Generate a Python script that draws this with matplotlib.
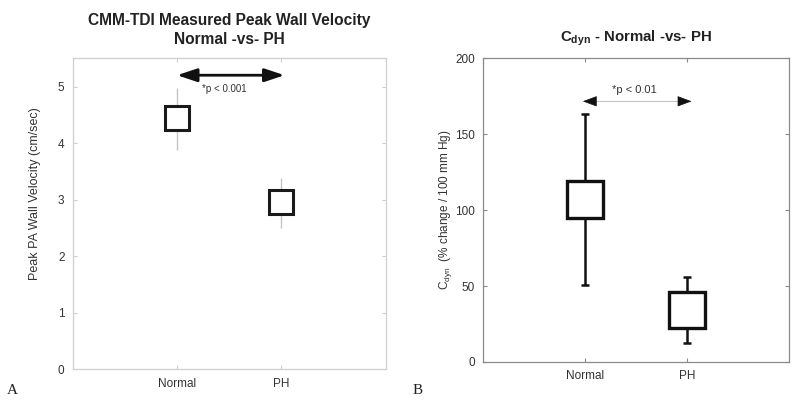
import matplotlib
matplotlib.use("Agg")
import matplotlib.pyplot as plt

plt.rcParams['font.family'] = ['Liberation Sans', 'DejaVu Sans']
plt.rcParams['mathtext.fontset'] = 'custom'
plt.rcParams['mathtext.rm'] = 'Liberation Sans'
plt.rcParams['mathtext.it'] = 'Liberation Sans:italic'
plt.rcParams['mathtext.bf'] = 'Liberation Sans:bold'

# ---------------- data ----------------
categories = ['Normal', 'PH']
positions = [1, 2]

# Panel A: peak PA wall velocity (cm/sec) - mean with range
vel_mean = [4.45, 2.95]
vel_low = [3.87, 2.49]
vel_high = [4.98, 3.39]

# Panel B: Cdyn (% change / 100 mm Hg) - box (q1..q3) with whiskers
cdyn_q1 = [95.0, 22.6]
cdyn_q3 = [119.3, 46.3]
cdyn_low = [50.4, 12.3]
cdyn_high = [163.6, 55.7]

a_ticks = [0, 1, 2, 3, 4, 5]
b_ticks = [0, 50, 100, 150, 200]

fig = plt.figure(figsize=(8.0, 4.12), dpi=100)

def style_axes(ax, spine_color):
    for s in ax.spines.values():
        s.set_color(spine_color)
        s.set_linewidth(0.9)
    ax.tick_params(direction='in', length=3, width=0.8, color=spine_color,
                   top=True, right=True, labelsize=8.5, labelcolor='#333333', pad=6)
    ax.set_xticks(positions)
    ax.set_xticklabels(categories)
    ax.set_xlim(0, 3)

# ---------------- Panel A ----------------
axA = fig.add_axes([0.091, 0.1036, 0.391, 0.755])
style_axes(axA, '#cfcfcf')
axA.set_ylim(0, 5.5)
axA.set_yticks(a_ticks)
yerr = [[m - l for m, l in zip(vel_mean, vel_low)],
        [h - m for m, h in zip(vel_mean, vel_high)]]
axA.errorbar(positions, vel_mean, yerr=yerr, fmt='s', ms=17, mfc='white',
             mec='#1a1a1a', mew=2.2, ecolor='#c4c4c4', elinewidth=1.0,
             capsize=0, zorder=3)
axA.set_ylabel('Peak PA Wall Velocity (cm/sec)', fontsize=9, color='#333333')
axA.yaxis.set_label_coords(-0.102, 0.565)
axA.set_title('CMM-TDI Measured Peak Wall Velocity\nNormal -vs- PH',
              fontsize=11.2, fontweight='bold', color='#222222', pad=10, linespacing=1.35)
axA.annotate('', xy=(1.0, 5.2), xytext=(2.03, 5.2),
             arrowprops=dict(arrowstyle='<|-|>,head_length=0.6,head_width=0.2',
                             color='#111111', lw=2.0, mutation_scale=20,
                             shrinkA=0, shrinkB=0))
axA.text(1.45, 4.95, '*p < 0.001', fontsize=7, color='#333333', ha='center', va='center')

# ---------------- Panel B ----------------
axB = fig.add_axes([0.604, 0.1214, 0.382, 0.737])
style_axes(axB, '#8a8a8a')
axB.set_ylim(0, 200)
axB.set_yticks(b_ticks)
axB.vlines(positions, cdyn_low, cdyn_high, color='#111111', lw=1.8, zorder=2)
axB.scatter(positions + positions, cdyn_low + cdyn_high, marker='_', s=28,
            color='#111111', linewidths=1.8, zorder=2)
axB.bar(positions, [h - l for l, h in zip(cdyn_q1, cdyn_q3)], bottom=cdyn_q1,
        width=0.35, color='white', edgecolor='#111111', linewidth=2.4, zorder=3)
axB.set_ylabel(r'C$_{\mathrm{dyn}}$  (% change / 100 mm Hg)', fontsize=8.5,
               color='#333333')
axB.yaxis.set_label_coords(-0.097, 0.5)
axB.set_title(r'C$_{\mathbf{dyn}}$ - Normal -vs- PH', fontsize=10.8,
              fontweight='bold', color='#222222', pad=12)
# p-value arrow: thin gray line with black heads
y_arrow = 171.7
axB.plot([1.06, 1.96], [y_arrow, y_arrow], color='#c4c4c4', lw=0.8, zorder=2)
for tip, base in [(0.978, 1.08), (2.045, 1.945)]:
    axB.annotate('', xy=(tip, y_arrow), xytext=(base, y_arrow),
                 arrowprops=dict(arrowstyle='-|>,head_length=0.75,head_width=0.28',
                                 color='#111111', lw=0.5, mutation_scale=12,
                                 shrinkA=0, shrinkB=0))
axB.text(1.484, 179, '*p < 0.01', fontsize=8, color='#333333', ha='center', va='center')

# panel letters
fig.text(0.015, 1 - 390 / 412, 'A', fontsize=11, family='Liberation Serif',
         ha='center', va='center', color='#222222')
fig.text(0.5225, 1 - 390 / 412, 'B', fontsize=11, family='Liberation Serif',
         ha='center', va='center', color='#222222')

fig.savefig('out.png', dpi=100)
